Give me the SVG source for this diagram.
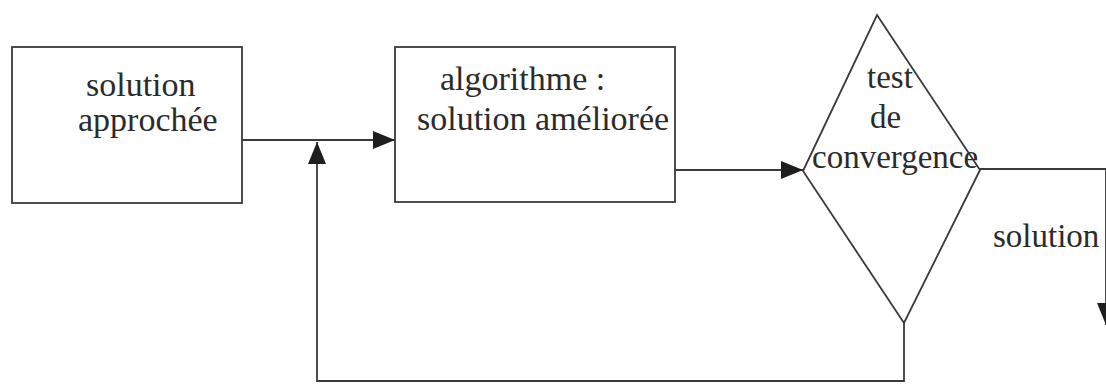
<svg xmlns="http://www.w3.org/2000/svg" width="1106" height="386" viewBox="0 0 1106 386">
  <style>
    .shape { fill: #ffffff; stroke: #3a3a3a; stroke-width: 1.8; }
    .wire { fill: none; stroke: #3a3a3a; stroke-width: 1.8; }
    .lbl { font-size: 34px; fill: #2b2b2b; }
    .lbl-s { font-size: 33px; fill: #2b2b2b; }
  </style>
  <defs>
    <marker id="arrow" markerUnits="userSpaceOnUse" markerWidth="22" markerHeight="18" refX="22" refY="9" orient="auto">
      <path d="M0,0 L22,9 L0,18 z" fill="#1e1e1e"/>
    </marker>
  </defs>
  <rect width="1106" height="386" fill="#ffffff"/>

  <!-- connectors -->
  <g id="connectors">
    <!-- initial solution into the algorithm -->
    <line class="wire" x1="242" y1="140" x2="395" y2="140" marker-end="url(#arrow)"/>
    <!-- algorithm to convergence test -->
    <line class="wire" x1="675" y1="170" x2="803" y2="170" marker-end="url(#arrow)"/>
    <!-- loop back when not converged -->
    <polyline class="wire" points="904,323 904,381 317,381 317,142" marker-end="url(#arrow)"/>
    <!-- converged: output solution -->
    <polyline class="wire" points="980,169 1106,169 1106,325" marker-end="url(#arrow)"/>
  </g>

  <g font-family="'Liberation Serif', 'Times New Roman', Times, serif">
    <!-- initial approximate solution -->
    <g id="node-solution-approchee">
      <rect class="shape" x="12" y="47" width="230" height="156"/>
      <text class="lbl" x="86" y="96">solution</text>
      <text class="lbl" x="78" y="131">approchée</text>
    </g>

    <!-- improvement algorithm -->
    <g id="node-algorithme">
      <rect class="shape" x="395" y="47" width="280" height="155"/>
      <text class="lbl" x="440" y="90">algorithme :</text>
      <text class="lbl" x="417" y="130">solution améliorée</text>
    </g>

    <!-- convergence test -->
    <g id="node-test">
      <polygon class="shape" points="877,15 980,170 904,323 803,171"/>
      <text class="lbl-s" x="867" y="88">test</text>
      <text class="lbl-s" x="870" y="128">de</text>
      <text class="lbl-s" x="812" y="168">convergence</text>
    </g>

    <!-- output label -->
    <g id="label-solution">
      <text class="lbl-s" x="993" y="247">solution</text>
    </g>
  </g>
</svg>
